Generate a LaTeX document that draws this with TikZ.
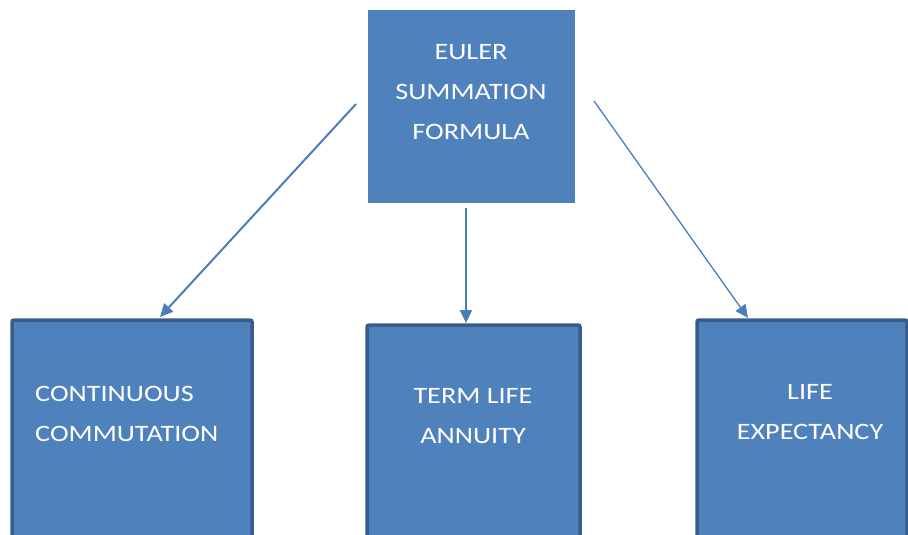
\documentclass[tikz,border=0pt]{standalone}
\usepackage{fontspec}
\setmainfont{Carlito}[FakeStretch=1.2]
\usetikzlibrary{arrows.meta}
\definecolor{boxfill}{HTML}{4F81BD}
\definecolor{boxline}{HTML}{385D8A}
\definecolor{arrowc}{HTML}{4A7EBB}
\begin{document}
\begin{tikzpicture}[x=1pt,y=-1pt,
  lbl/.style={text=white,font=\fontsize{23.5}{40}\selectfont,inner sep=0pt},
  conn/.style={draw=arrowc,line width=2pt,-{Triangle[length=13pt,width=12pt]}}]
\useasboundingbox (0,0) rectangle (908,535);
\clip (0,0) rectangle (908,535);
% top box
\fill[boxfill] (368,10) rectangle (575,203);
\node[lbl,align=center] (top) at (471,92) {EULER\\SUMMATION\\FORMULA};
% bottom boxes
\draw[fill=boxfill,draw=boxline,line width=3.5pt,rounded corners=2pt] (12,320) rectangle (252,560);
\draw[fill=boxfill,draw=boxline,line width=3.5pt,rounded corners=2pt] (367,325) rectangle (580,560);
\draw[fill=boxfill,draw=boxline,line width=3.5pt,rounded corners=2pt] (697,320) rectangle (907,560);
\node[lbl,align=left,anchor=west] (cc) at (35,414) {CONTINUOUS\\COMMUTATION};
\node[lbl,align=center] (tla) at (473,416) {TERM LIFE\\ANNUITY};
\node[lbl,align=center] (le) at (810,412) {LIFE\\EXPECTANCY};
% connectors
\coordinate (s1) at (356,104);
\coordinate (e1) at (160,317);
\coordinate (s2) at (466,208);
\coordinate (e2) at (466,323);
\coordinate (s3) at (594,101);
\coordinate (e3) at (748,318);
\draw[conn] (s1) -- (e1);
\draw[conn] (s2) -- (e2);
\draw[conn,line width=1.3pt] (s3) -- (e3);
\end{tikzpicture}
\end{document}
